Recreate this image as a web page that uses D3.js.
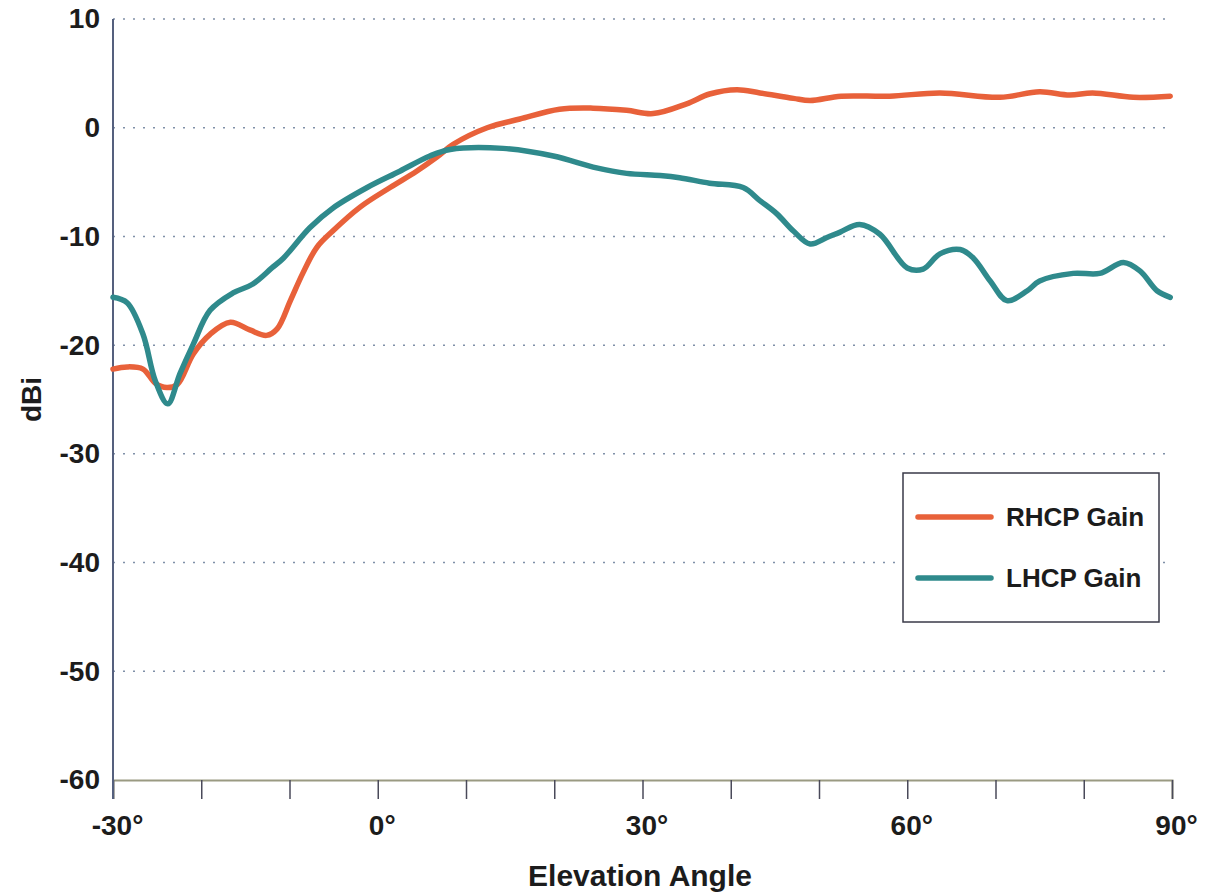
<!DOCTYPE html>
<html>
<head>
<meta charset="utf-8">
<script src="https://cdn.jsdelivr.net/npm/d3@7"></script>
<style>
  body { margin: 0; background: #fff; }
  svg { display: block; }
  text { font-family: "Liberation Sans", Arial, Helvetica, sans-serif; fill: #1c1c1c; }
</style>
</head>
<body>
<svg id="chart" width="1211" height="896"></svg>
<script>
// elevation angle (deg) and gain (dBi)
var rhcpAngle = [-30, -28.4, -26.6, -25.2, -23.9, -22.7, -20.9, -19, -16.7, -14.5, -12.6, -11.4, -9.9, -8.5, -6.9, -5.1, -2, 1.4, 4.4, 6.7, 8.6, 12.4, 16.1, 20.6, 24.4, 28.2, 31.2, 35, 37.6, 40.7, 43.3, 47.1, 49, 52.5, 58, 63.7, 70.5, 75, 78.4, 81, 85.6, 89.8];
var rhcpGain  = [-22.2, -22.0, -22.2, -23.5, -23.9, -23.6, -20.8, -19.0, -17.9, -18.6, -19.1, -18.5, -15.9, -13.4, -11.0, -9.5, -7.3, -5.5, -4.0, -2.7, -1.5, 0, 0.8, 1.7, 1.8, 1.6, 1.3, 2.2, 3.1, 3.5, 3.2, 2.7, 2.5, 2.9, 2.9, 3.2, 2.8, 3.3, 3.0, 3.2, 2.8, 2.9];

var lhcpAngle = [-30, -28.4, -26.6, -25.2, -23.8, -22.4, -20.9, -19, -16.4, -14.2, -12, -10.7, -7.7, -5.1, -1.2, 2.5, 5.9, 8.2, 14.2, 19.9, 24.8, 28.2, 32, 34.2, 37.6, 41.4, 43.3, 45.2, 47.1, 49, 50.9, 52.4, 54.6, 56.9, 60, 61.8, 63.7, 66, 67.5, 69.4, 71.3, 73.6, 75, 78.8, 81.8, 84.5, 86.4, 88.3, 89.8];
var lhcpGain  = [-15.6, -16.1, -19.0, -23.3, -25.4, -22.6, -19.9, -16.8, -15.2, -14.4, -12.9, -12.0, -9.2, -7.4, -5.5, -4.0, -2.6, -2.0, -1.9, -2.6, -3.7, -4.2, -4.4, -4.6, -5.1, -5.5, -6.7, -7.9, -9.5, -10.7, -10.1, -9.6, -8.9, -9.8, -12.9, -13.0, -11.6, -11.2, -12.0, -14.1, -15.9, -15.0, -14.1, -13.4, -13.4, -12.4, -13.2, -15.0, -15.6];

var xTicks = [-30, -20, -10, 0, 10, 20, 30, 40, 50, 60, 70, 80, 90];
var xLabels = [-30, 0, 30, 60, 90];
var yTicks = [10, 0, -10, -20, -30, -40, -50, -60];

var series = [
  { name: "RHCP Gain", color: "#e8613a", angle: rhcpAngle, gain: rhcpGain },
  { name: "LHCP Gain", color: "#2f8a8c", angle: lhcpAngle, gain: lhcpGain }
];

var svg = d3.select("#chart"),
    MARGINS = { top: 19, right: 39, bottom: 116, left: 113 },
    WIDTH = 1211,
    HEIGHT = 896;

var x = d3.scaleLinear().domain([-30, 90]).range([MARGINS.left, WIDTH - MARGINS.right]);
var y = d3.scaleLinear().domain([-60, 10]).range([HEIGHT - MARGINS.bottom, MARGINS.top]);

// dotted grid
svg.append("g")
  .selectAll("line")
  .data(yTicks.filter(function(d) { return d > -60; }))
  .join("line")
    .attr("x1", x(-30))
    .attr("x2", x(90))
    .attr("y1", function(d) { return y(d); })
    .attr("y2", function(d) { return y(d); })
    .attr("stroke", "#8090a8")
    .attr("stroke-width", 1.5)
    .attr("stroke-dasharray", "2,8");

// x axis
var xAxis = d3.axisBottom(x)
  .tickValues(xTicks)
  .tickSize(19)
  .tickFormat(function(d) { return xLabels.indexOf(d) >= 0 ? String(d) + "°" : ""; });

var gx = svg.append("g")
  .attr("transform", "translate(0," + y(-60) + ")")
  .call(xAxis);
gx.select(".domain").attr("stroke", "#9a9a82").attr("stroke-width", 2);
gx.selectAll(".tick line").attr("stroke", "#4a4a5a").attr("stroke-width", 1.5);
gx.selectAll(".tick text")
  .attr("y", 35)
  .attr("dy", "0.71em")
  .attr("dx", 4)
  .attr("font-size", 28)
  .attr("font-weight", "bold")
  .attr("fill", "#1c1c1c");

// y axis
var yAxis = d3.axisLeft(y)
  .tickValues(yTicks)
  .tickSize(0)
  .tickPadding(13)
  .tickFormat(function(d) { return String(d); });

var gy = svg.append("g")
  .attr("transform", "translate(" + x(-30) + ",0)")
  .call(yAxis);
gy.select(".domain").remove();
gy.selectAll(".tick text")
  .attr("font-size", 28)
  .attr("font-weight", "bold")
  .attr("fill", "#1c1c1c");

svg.append("line")
  .attr("x1", x(-30)).attr("x2", x(-30))
  .attr("y1", y(10)).attr("y2", y(-60) + 19)
  .attr("stroke", "#55607e")
  .attr("stroke-width", 2);

// axis titles
svg.append("text")
  .attr("x", 640)
  .attr("y", 886)
  .attr("text-anchor", "middle")
  .attr("font-size", 30)
  .attr("font-weight", "bold")
  .text("Elevation Angle");

svg.append("text")
  .attr("transform", "translate(41," + y(-25) + ") rotate(-90)")
  .attr("text-anchor", "middle")
  .attr("font-size", 28)
  .attr("font-weight", "bold")
  .text("dBi");

// curves
var lineGen = d3.line()
  .x(function(d) { return x(d[0]); })
  .y(function(d) { return y(d[1]); })
  .curve(d3.curveCatmullRom.alpha(0.5));

series.forEach(function(s) {
  var pts = s.angle.map(function(a, i) { return [a, s.gain[i]]; });
  svg.append("path")
    .attr("d", lineGen(pts))
    .attr("fill", "none")
    .attr("stroke", s.color)
    .attr("stroke-width", 5.5)
    .attr("stroke-linejoin", "round")
    .attr("stroke-linecap", "round");
});

// legend
var legend = svg.append("g").attr("transform", "translate(903,473)");
legend.append("rect")
  .attr("width", 256)
  .attr("height", 149)
  .attr("fill", "#fff")
  .attr("stroke", "#3a3a48")
  .attr("stroke-width", 1.5);

series.forEach(function(s, i) {
  var ly = 44 + i * 61;
  legend.append("line")
    .attr("x1", 15).attr("x2", 88)
    .attr("y1", ly).attr("y2", ly)
    .attr("stroke", s.color)
    .attr("stroke-width", 5.5)
    .attr("stroke-linecap", "round");
  legend.append("text")
    .attr("x", 103)
    .attr("y", ly + 9)
    .attr("font-size", 26)
    .attr("font-weight", "bold")
    .attr("fill", "#2a2a35")
    .text(s.name);
});
</script>
</body>
</html>
